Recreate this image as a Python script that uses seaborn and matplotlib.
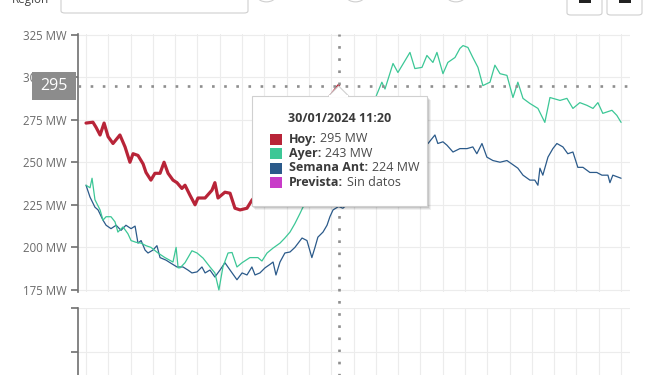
import matplotlib
matplotlib.use("Agg")
import matplotlib.pyplot as plt
from matplotlib.patches import Rectangle, FancyBboxPatch, Polygon, Circle
import seaborn as sns
import pandas as pd
import numpy as np

# hours of the day (0-24) and demand in MW
hoy_h = [0.00, 0.31, 0.45, 0.63, 0.81, 0.99, 1.21, 1.52, 1.75, 1.97, 2.11, 2.33,
         2.56, 2.69, 2.91, 3.09, 3.32, 3.50, 3.68, 3.90, 4.08, 4.30, 4.44, 4.66,
         4.89, 5.02, 5.34, 5.65, 5.78, 5.92, 6.23, 6.46, 6.68, 6.91, 7.22, 7.44,
         7.80, 8.40, 9.00, 9.60, 10.20, 10.80, 11.33]
hoy_mw = [273, 273.5, 270.5, 266, 273, 265, 261, 266, 259, 250, 255, 254,
          249, 244, 239.5, 243.5, 243.5, 250, 243.5, 239.5, 238, 234.6, 236.5, 230.7,
          225, 229, 229, 233.6, 238, 229, 232.4, 231.8, 223, 222, 223, 227.7,
          233, 242, 252, 263, 274, 286, 295]

ayer_h = [0.00, 0.18, 0.27, 0.40, 0.63, 0.76, 0.90, 1.12, 1.30, 1.43, 1.66, 1.88,
          2.02, 2.24, 2.47, 2.69, 2.91, 3.23, 3.54, 3.90, 4.04, 4.13, 4.22, 4.44,
          4.75, 4.98, 5.25, 5.56, 5.78, 5.96, 6.14, 6.37, 6.55, 6.77, 7.00, 7.35,
          7.71, 7.89, 8.12, 8.39, 8.70, 8.92, 9.15, 9.37, 9.60, 9.73, 10.27, 10.85,
          11.33, 11.93, 12.51, 13.05, 13.27, 13.41, 13.77, 13.99, 14.53, 14.75, 15.07, 15.29,
          15.56, 15.74, 16.01, 16.23, 16.55, 16.77, 16.91, 17.13, 17.35, 17.58, 17.80, 18.12,
          18.34, 18.57, 18.88, 19.15, 19.37, 19.60, 19.91, 20.27, 20.58, 20.81, 21.26, 21.57,
          21.84, 22.15, 22.47, 22.74, 22.96, 23.18, 23.59, 23.81, 24.00]
ayer_mw = [236.5, 235, 240.6, 228, 222, 216, 218, 218, 215, 209, 212, 208,
           204, 203, 202.5, 201, 200, 196.7, 194, 191.4, 200, 188, 188, 191,
           198, 196.7, 193.7, 188.5, 185, 175, 188.5, 196.7, 197, 188.5, 191, 194,
           194, 192, 196.7, 199.6, 202.5, 205.5, 209, 214, 220, 223.6, 230, 237,
           243, 255, 272, 290, 297, 293, 308, 302.7, 314.5, 305, 305.7, 312.7,
           308.6, 314.5, 302, 308.6, 311.5, 316.8, 318.5, 317.4, 311.5, 305.7, 295, 297,
           307, 302, 301, 288, 297, 287.5, 284.5, 281.6, 273.4, 288, 286.3, 287.5,
           281.6, 285, 283.4, 281.6, 285, 278.7, 280.5, 277.5, 273.4]

semana_h = [0.00, 0.18, 0.40, 0.54, 0.76, 0.90, 1.12, 1.35, 1.57, 1.79, 2.02, 2.20,
            2.33, 2.47, 2.65, 2.78, 3.00, 3.18, 3.32, 3.59, 3.77, 4.08, 4.35, 4.57,
            4.75, 4.98, 5.20, 5.34, 5.56, 5.78, 6.01, 6.23, 6.46, 6.77, 7.00, 7.22,
            7.44, 7.58, 7.80, 8.03, 8.25, 8.39, 8.52, 8.70, 8.92, 9.15, 9.37, 9.69,
            9.91, 10.13, 10.27, 10.40, 10.63, 10.81, 10.94, 11.08, 11.33, 11.52, 11.70, 12.29,
            12.96, 13.63, 14.30, 14.89, 15.34, 15.65, 15.78, 16.01, 16.19, 16.46, 16.77, 17.09,
            17.35, 17.53, 17.76, 17.98, 18.25, 18.57, 18.88, 19.10, 19.37, 19.60, 19.91, 20.13,
            20.27, 20.36, 20.49, 20.72, 20.94, 21.12, 21.39, 21.61, 21.84, 22.06, 22.29, 22.60,
            22.91, 23.14, 23.41, 23.50, 23.63, 24.00]
semana_mw = [236.5, 229.5, 223.6, 222, 216, 213, 211, 213, 210, 213, 211, 212.5,
             202.5, 204, 198.4, 196.7, 198.4, 201, 194, 192.5, 191, 188.5, 188.5, 186.7,
             185, 185.6, 188.5, 185, 186.7, 182.6, 186.7, 191, 186.7, 181, 185, 183.8,
             188.5, 183.8, 185, 188, 190, 191.4, 183.8, 191.4, 196.7, 197.3, 200, 205.5,
             204, 194, 200, 206, 209, 213, 218, 222, 224, 223, 225, 235,
             245, 252, 258, 256, 261, 266, 261, 262, 260, 256, 258, 258,
             259, 255, 261, 253, 251, 250, 251, 249, 246.5, 242.4, 239.5, 239.5,
             236.5, 246.5, 242.4, 253, 258, 261, 259, 255, 256, 247, 247, 244,
             244, 242.4, 242.4, 238, 242.4, 240.6]

series_names = ["Hoy", "Ayer", "Semana Ant", "Prevista"]
series_colors = ["#b82438", "#3cc796", "#2b5a8a", "#c83cc8"]
y_ticks = [175, 200, 225, 250, 275, 300, 325]
cursor_h = 11.33
cursor_label = "30/01/2024 11:20"

sns.set_theme(style="white")
plt.rcParams['font.family'] = ['Open Sans', 'DejaVu Sans']

W, H = 656, 375
fig = plt.figure(figsize=(W / 100, H / 100), dpi=100)
fig.patch.set_facecolor("white")


def fx(x):
    return x / W


def fy(y):
    return 1 - y / H


ax = fig.add_axes([fx(78), fy(292), (630 - 78) / W, (292 - 34) / H])
ax2 = fig.add_axes([fx(78), fy(440), (630 - 78) / W, (440 - 308) / H])

frames = {
    "Semana Ant": pd.DataFrame({"hora": semana_h, "MW": semana_mw}),
    "Ayer": pd.DataFrame({"hora": ayer_h, "MW": ayer_mw}),
    "Hoy": pd.DataFrame({"hora": hoy_h, "MW": hoy_mw}),
}
widths = {"Semana Ant": 0.9, "Ayer": 0.9, "Hoy": 2.3}
for name, df in frames.items():
    sns.lineplot(data=df, x="hora", y="MW", ax=ax, color=series_colors[series_names.index(name)],
                 linewidth=widths[name], zorder=3)

for a in (ax, ax2):
    a.set_facecolor("none")
    a.set_xlim(-0.36, 24.4)
    a.set_xticks(range(25))
    a.tick_params(axis="x", length=0, labelbottom=False)
    a.grid(True, color="#ececec", linewidth=0.8)
    for s in ("top", "right", "bottom"):
        a.spines[s].set_visible(False)
    a.spines["left"].set_color("#707070")
    a.spines["left"].set_linewidth(1.2)
    a.tick_params(axis="y", direction="out", length=5, width=1.2, color="#707070",
                  labelcolor="#6a6a6a", labelsize=8.3, pad=3, left=True)
    a.set_xlabel("")
    a.set_ylabel("")

ax.set_ylim(173.8, 325.3)
ax.set_yticks(y_ticks)
ax.set_yticklabels([f"{t} MW" for t in y_ticks])
ax2.set_ylim(0, 3)
ax2.set_yticks([2, 3])
ax2.set_yticklabels(["", ""])

hoy_now = float(np.interp(cursor_h, hoy_h, hoy_mw))
ayer_now = float(np.interp(cursor_h, ayer_h, ayer_mw))
semana_now = float(np.interp(cursor_h, semana_h, semana_mw))

dot = dict(color="#8e8e8e", linewidth=1.9, dashes=(1, 3.6), dash_capstyle="butt", zorder=4)
ax.axhline(hoy_now, **dot)
ax.axvline(cursor_h, ymin=-0.35, ymax=1, clip_on=False, **dot)

# value box on the y axis
yd = ax.transData.transform((0, hoy_now))[1]
ypx = H - yd
fig.patches.append(Rectangle((fx(32), fy(ypx + 14)), 44 / W, 28 / H, transform=fig.transFigure,
                             facecolor="#8c8c8c", edgecolor="none", zorder=5))
fig.text(fx(54), fy(ypx), f"{hoy_now:.0f}", color="white", fontsize=11.5,
         ha="center", va="center", zorder=6)

# tooltip
cx = ax.transData.transform((cursor_h, 0))[0]
bx0, bx1, by0, by1 = 252, 427, 96, 206
for off, al in ((4, 0.06), (3, 0.08), (2, 0.1), (1, 0.12)):
    fig.patches.append(Rectangle((fx(bx0 + off - 1), fy(by1 + off)), (bx1 - bx0 + 1) / W,
                                 (by1 - by0) / H, transform=fig.transFigure,
                                 facecolor="black", alpha=al, edgecolor="none", zorder=6))
fig.patches.append(Rectangle((fx(bx0), fy(by1)), (bx1 - bx0) / W, (by1 - by0) / H,
                             transform=fig.transFigure, facecolor="white",
                             edgecolor="#d0d0d0", linewidth=0.8, zorder=7))
fig.patches.append(Polygon([(fx(cx - 10), fy(by0)), (fx(cx), fy(by0 - 10)), (fx(cx + 10), fy(by0))],
                           closed=False, transform=fig.transFigure, facecolor="white",
                           edgecolor="#d0d0d0", linewidth=0.8, zorder=8))
fig.patches.append(Rectangle((fx(cx - 9.3), fy(by0 + 0.8)), 18.6 / W, 1.6 / H,
                             transform=fig.transFigure, facecolor="white",
                             edgecolor="none", zorder=8))

fig.text(fx(339.5), fy(118), cursor_label, fontsize=9, fontweight="bold", color="#3a3a3a",
         ha="center", va="center", zorder=9)
values = [f"{hoy_now:.0f} MW", f"{ayer_now:.0f} MW", f"{semana_now:.0f} MW", "Sin datos"]
row_y = [139, 153.5, 168, 182.5]
renderer = fig.canvas.get_renderer()
for name, col, val, ry in zip(series_names, series_colors, values, row_y):
    fig.patches.append(Rectangle((fx(270), fy(ry + 5.5)), 11.5 / W, 11 / H,
                                 transform=fig.transFigure, facecolor=col,
                                 edgecolor="none", zorder=9))
    t = fig.text(fx(289), fy(ry), name + ":", fontsize=9, fontweight="bold", color="#3a3a3a",
                 ha="left", va="center", zorder=9)
    x1 = t.get_window_extent(renderer).x1
    fig.text((x1 + 3.5) / W, fy(ry), val, fontsize=9, color="#4a4a4a",
             ha="left", va="center", zorder=9)

# top controls of the page (cut off)
fig.text(fx(12), fy(3), "Región", fontsize=8.5, color="#444444", ha="left", va="baseline")
fig.patches.append(FancyBboxPatch((fx(61), fy(13)), (248 - 61) / W, 25 / H,
                                  boxstyle="round,pad=0,rounding_size=0.006",
                                  transform=fig.transFigure, facecolor="white",
                                  edgecolor="#cfcfcf", linewidth=0.8))
for ccx in (266.5, 355.5, 456):
    fig.patches.append(Circle((fx(ccx), fy(-3)), 8.5 / W, transform=fig.transFigure,
                              facecolor="white", edgecolor="#cfcfcf", linewidth=0.8))
for bx, ix in ((567, 579), (607, 619)):
    fig.patches.append(FancyBboxPatch((fx(bx), fy(15)), 35 / W, 25 / H,
                                      boxstyle="round,pad=0,rounding_size=0.006",
                                      transform=fig.transFigure, facecolor="white",
                                      edgecolor="#cfcfcf", linewidth=0.8))
    fig.patches.append(Rectangle((fx(ix), fy(3)), 12 / W, 5 / H, transform=fig.transFigure,
                                 facecolor="#222222", edgecolor="none"))

fig.savefig("out.png", dpi=100)
